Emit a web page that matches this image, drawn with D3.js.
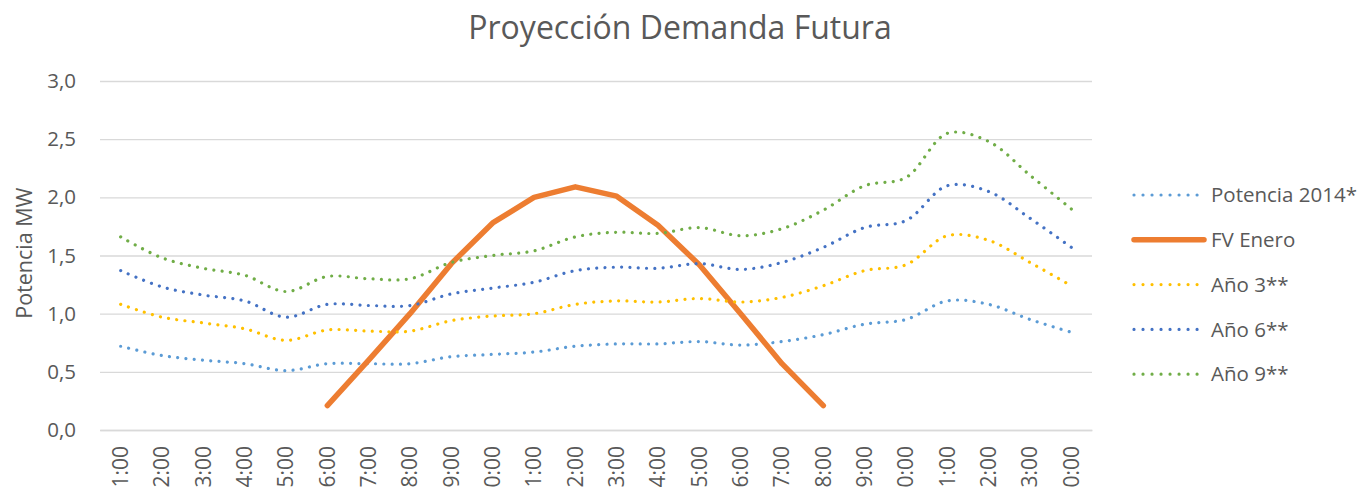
<!DOCTYPE html>
<html>
<head>
<meta charset="utf-8">
<script src="https://cdn.jsdelivr.net/npm/d3@7"></script>
<style>
  body { margin: 0; background: #fff; }
  svg { display: block; font-family: 'Open Sans', sans-serif; }
</style>
</head>
<body>
<svg id="chart"></svg>
<script>
'use strict';

let WIDTH = 1362;
let HEIGHT = 490;

// hour labels as they show under the axis (leading digit of two-digit hours is cut off in the original)
let hours = ['1:00', '2:00', '3:00', '4:00', '5:00', '6:00', '7:00', '8:00', '9:00', '0:00',
    '1:00', '2:00', '3:00', '4:00', '5:00', '6:00', '7:00', '8:00', '9:00', '0:00',
    '1:00', '2:00', '3:00', '0:00'];

let potencia2014 = [0.72, 0.64, 0.60, 0.57, 0.51, 0.57, 0.57, 0.57, 0.63, 0.65, 0.67, 0.72,
    0.74, 0.74, 0.76, 0.73, 0.76, 0.82, 0.91, 0.95, 1.11, 1.08, 0.95, 0.84];
let ano3 = [1.08, 0.97, 0.92, 0.87, 0.77, 0.86, 0.85, 0.85, 0.94, 0.98, 1.00, 1.08,
    1.11, 1.10, 1.13, 1.10, 1.14, 1.24, 1.37, 1.42, 1.67, 1.63, 1.44, 1.24];
let ano6 = [1.37, 1.23, 1.16, 1.11, 0.97, 1.08, 1.07, 1.07, 1.17, 1.22, 1.27, 1.37,
    1.40, 1.39, 1.43, 1.38, 1.44, 1.57, 1.74, 1.80, 2.10, 2.05, 1.82, 1.57];
let ano9 = [1.66, 1.48, 1.39, 1.33, 1.19, 1.32, 1.30, 1.30, 1.44, 1.50, 1.54, 1.66,
    1.70, 1.69, 1.74, 1.67, 1.73, 1.89, 2.10, 2.17, 2.55, 2.48, 2.19, 1.90];
// solar production, only during daylight hours
let fvEnero = [null, null, null, null, null, 0.21, 0.60, 1.00, 1.43, 1.78, 2.00, 2.09,
    2.01, 1.76, 1.42, 1.00, 0.57, 0.21, null, null, null, null, null, null];

let yTicks = [0, 0.5, 1, 1.5, 2, 2.5, 3];

let series = [
    { name: 'Potencia 2014*', values: potencia2014, color: '#5B9BD5', dotted: true },
    { name: 'FV Enero', values: fvEnero, color: '#ED7D31', dotted: false },
    { name: 'Año 3**', values: ano3, color: '#FFC000', dotted: true },
    { name: 'Año 6**', values: ano6, color: '#4472C4', dotted: true },
    { name: 'Año 9**', values: ano9, color: '#70AD47', dotted: true }
];

let TEXT = '#595959';
let margin = { left: 100, right: 270, top: 81, bottom: 60 };

let svg = d3.select('#chart').attr('width', WIDTH).attr('height', HEIGHT);

let x = d3.scaleBand()
    .domain(hours.map(function(d, i) { return i; }))
    .range([margin.left, WIDTH - margin.right]);

let y = d3.scaleLinear()
    .domain([0, 3])
    .range([HEIGHT - margin.bottom, margin.top]);

// title
svg.append('text')
    .attr('x', 680)
    .attr('y', 39)
    .attr('text-anchor', 'middle')
    .attr('font-size', 32)
    .attr('fill', TEXT)
    .text('Proyección Demanda Futura');

// gridlines + y axis
let yAxis = d3.axisLeft(y)
    .tickValues(yTicks)
    .tickSize(-(WIDTH - margin.left - margin.right))
    .tickPadding(24)
    .tickFormat(function(d) { return d3.format('.1f')(d).replace('.', ','); });

let gy = svg.append('g')
    .attr('transform', 'translate(' + margin.left + ',0)')
    .call(yAxis)
    .attr('font-family', null);
gy.select('.domain').remove();
gy.selectAll('.tick line').attr('stroke', '#d9d9d9').attr('stroke-width', 1.3);
gy.selectAll('.tick text').attr('fill', TEXT).attr('font-size', 20.5);

// x axis
let xAxis = d3.axisBottom(x)
    .tickSize(0)
    .tickFormat(function(i) { return hours[i]; });

let gx = svg.append('g')
    .attr('transform', 'translate(0,' + (HEIGHT - margin.bottom) + ')')
    .call(xAxis)
    .attr('font-family', null);
gx.select('.domain').attr('stroke', '#d9d9d9').attr('stroke-width', 1.3);
gx.selectAll('.tick text')
    .attr('fill', TEXT)
    .attr('font-size', 21)
    .attr('text-anchor', 'end')
    .attr('dy', '0.35em')
    .attr('transform', 'translate(0,16) rotate(-90)')
    .attr('x', 0)
    .attr('y', 0);

// y axis title
svg.append('text')
    .attr('transform', 'translate(32,' + y(1.52) + ') rotate(-90)')
    .attr('text-anchor', 'middle')
    .attr('font-size', 21.5)
    .attr('fill', TEXT)
    .text('Potencia MW');

// lines
let line = d3.line()
    .defined(function(d) { return d != null; })
    .x(function(d, i) { return x(i) + x.bandwidth() / 2; })
    .y(function(d) { return y(d); });

series.forEach(function(s) {
    let p = svg.append('path')
        .datum(s.values)
        .attr('fill', 'none')
        .attr('stroke', s.color)
        .attr('stroke-linecap', 'round')
        .attr('stroke-linejoin', 'round');
    if (s.dotted) {
        p.attr('d', line.curve(d3.curveCatmullRom.alpha(0.5))(s.values))
            .attr('stroke-width', 3.2)
            .attr('stroke-dasharray', '0.01 8.3');
    } else {
        p.attr('d', line.curve(d3.curveLinear)(s.values))
            .attr('stroke-width', 5.5);
    }
});

// legend
let legend = svg.append('g');
series.forEach(function(s, i) {
    let ly = 195 + i * 44.8;
    let l = legend.append('line')
        .attr('x1', 1134).attr('x2', s.dotted ? 1198 : 1204)
        .attr('y1', ly).attr('y2', ly)
        .attr('stroke', s.color)
        .attr('stroke-linecap', 'round');
    if (s.dotted) {
        l.attr('stroke-width', 3.2).attr('stroke-dasharray', '0.01 9');
    } else {
        l.attr('stroke-width', 5.5);
    }
    legend.append('text')
        .attr('x', 1211)
        .attr('y', ly)
        .attr('dy', '0.35em')
        .attr('font-size', 20.5)
        .attr('fill', TEXT)
        .text(s.name);
});
</script>
</body>
</html>
